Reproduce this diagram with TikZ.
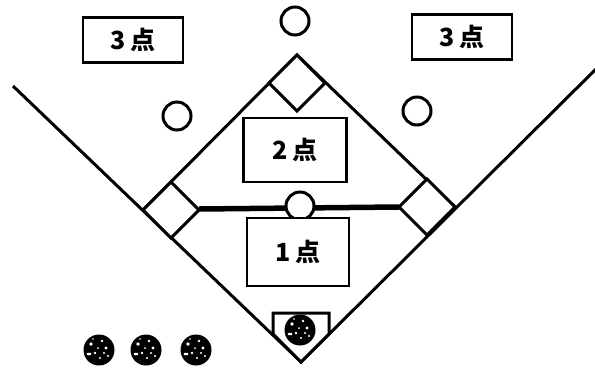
\documentclass[tikz,border=0pt]{standalone}
\usepackage{fontspec}
\newfontfamily\jp{Noto Sans CJK JP}
\begin{document}
\begin{tikzpicture}[x=1pt,y=-1pt,
  fieldline/.style={line width=3pt,line join=miter},
  basebox/.style={draw,line width=3pt,fill=white},
  ptbox/.style={draw,line width=2.4pt,fill=white,inner sep=0pt,font=\jp\bfseries\fontsize{25}{25}\selectfont},
  ring/.style={draw,line width=3pt,fill=white,circle,inner sep=0pt},
  ball/.style={fill=black,circle,inner sep=0pt,minimum size=31pt},
  speck/.style={fill=white}]
\useasboundingbox (0,0) rectangle (595,368);
% field corners
\coordinate (home) at (301,362);
\coordinate (third) at (143,210);
\coordinate (second) at (297,55);
\coordinate (first) at (455,207);
\coordinate (lend) at (13,86);
\coordinate (rend) at (596,69);
% foul lines and infield
\draw[fieldline] (lend) -- (home) -- (rend);
\draw[fieldline] (third) -- (second) -- (first);
% thick line between bases
\coordinate (tr) at (199,209);
\coordinate (fl) at (399,207);
\draw[line width=5.5pt] (tr) -- (fl);
% bases
\draw[basebox] (143,210) -- (171,182) -- (199,210) -- (171,238) -- cycle;
\draw[basebox] (297,55) -- (325,83) -- (297,111) -- (269,83) -- cycle;
\draw[basebox] (455,207) -- (427,179) -- (399,207) -- (427,235) -- cycle;
% home plate
\draw[fieldline,fill=white] (273,313) -- (329,313) -- (329,334) -- (home) -- (273,334) -- cycle;
% circles
\node[ring,minimum size=28pt] (ctop) at (295,21) {};
\node[ring,minimum size=28pt] (cleft) at (177,116) {};
\node[ring,minimum size=28pt] (cright) at (417,111) {};
\node[ring,minimum size=28pt] (cmid) at (300,206) {};
% point boxes
\node[ptbox,minimum width=100pt,minimum height=45pt] (b3l) at (133,40) {3\,点};
\node[ptbox,minimum width=100pt,minimum height=45pt] (b3r) at (462,37) {3\,点};
\node[ptbox,minimum width=103pt,minimum height=64pt] (b2) at (295,150) {2\,点};
\node[ptbox,minimum width=102pt,minimum height=68pt] (b1) at (298,252) {1\,点};
% balls
\foreach \n/\x/\y in {hb/300/330, b1/99/350, b2/146/350, b3/196/350}{
  \node[ball] (\n) at (\x,\y) {};
  \fill[speck] (\x-8,\y-6) circle (1.8pt);
  \fill[speck] (\x+3,\y-9) circle (1.3pt);
  \fill[speck] (\x+7,\y-2) circle (1.7pt);
  \fill[speck] (\x-4,\y+3) circle (1.4pt);
  \fill[speck] (\x+1,\y+8) circle (1.2pt);
  \fill[speck] (\x-10,\y+4) ellipse (2.4pt and 1.3pt);
  \fill[speck] (\x+9,\y+6) circle (1.1pt);
  \fill[speck] (\x-1,\y-2) circle (1.0pt);
  \fill[speck] (\x+5,\y+3) circle (1.1pt);
  \fill[speck] (\x-6,\y-11) circle (0.9pt);
}
\end{tikzpicture}
\end{document}
